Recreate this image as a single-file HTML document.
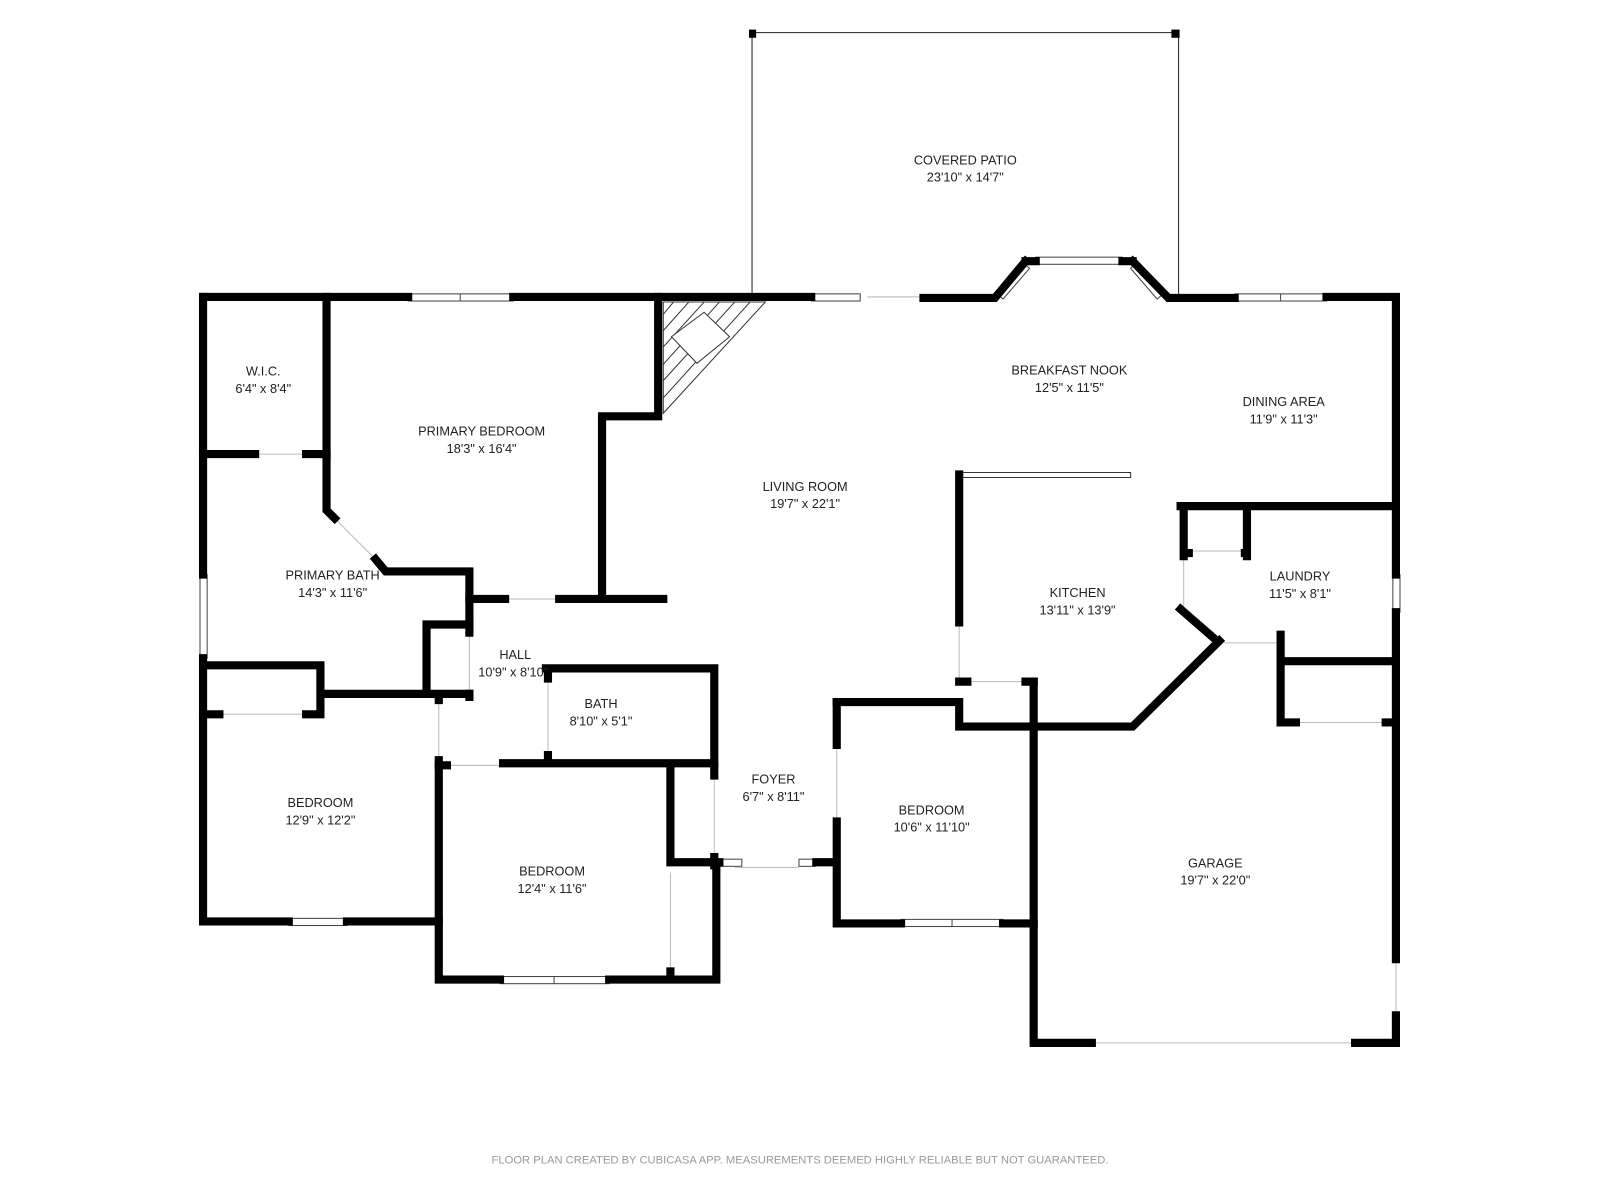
<!DOCTYPE html>
<html><head><style>
html,body{margin:0;padding:0;background:#fff;}
svg{display:block;}
text{font-family:"Liberation Sans",sans-serif;fill:#222;font-size:12.5px;text-anchor:middle;}
</style></head><body>
<svg width="1600" height="1200" viewBox="0 0 1568 1176" preserveAspectRatio="none" xmlns="http://www.w3.org/2000/svg">
<rect width="1568" height="1176" fill="#fff"/>
<g stroke="#222" stroke-width="1" fill="none">
<path d="M737,32 V291 M737,32 H1155 M1155,32 V291"/>
</g>
<rect x="734" y="29" width="7" height="8" fill="#000"/><rect x="1148" y="29" width="8" height="8" fill="#000"/>
<g stroke="#333" stroke-width="1" fill="none">
<path d="M650,296 L750,296 L650,405 Z"/>
<path d="M660,296 L650,308 M675,296 L650,324 M690,296 L650,340 M705,296 L650,357 M720,296 L650,373 M735,296 L650,390"/>
<path d="M658,330 L690,306 L715,330 L683,356 Z" fill="#fff"/>
</g>
<g fill="#fff" stroke="#444" stroke-width="1">
<rect x="400" y="288" width="103" height="7"/><line x1="451" y1="288" x2="451" y2="295"/>
<rect x="795" y="288" width="48" height="7"/>
<rect x="1015" y="252" width="85" height="7"/>
<rect x="1210" y="288" width="90" height="7"/><line x1="1255" y1="288" x2="1255" y2="295"/>
<rect x="196" y="563" width="7" height="82"/>
<rect x="1365" y="563" width="7" height="37"/>
<rect x="283" y="900" width="57" height="7"/>
<rect x="490" y="957" width="107" height="7"/><line x1="543" y1="957" x2="543" y2="964"/>
<rect x="883" y="901" width="100" height="7"/><line x1="933" y1="901" x2="933" y2="908"/>
<rect x="705" y="842" width="22" height="7"/><rect x="783" y="842" width="16" height="7"/>
<polygon points="977,288 1003,258 1009,263 983,293"/>
<polygon points="1113,258 1140,288 1134,293 1108,263"/>
</g>
<g stroke="#bbb" stroke-width="1" fill="none">
<path d="M850,291 H905 M1070,1022 H1328 M1368,940 V995 M250,445 H300 M215,700 H300 M430,683 V745 M495,587 H548 M460,620 V680 M537,665 V740 M438,750 H493 M700,748 V845 M720,850 H783 M820,730 V805 M657,855 V948 M1160,545 V598 M1200,630 H1255 M1270,708 H1358 M948,668 H1005 M940,610 V668 M1165,540 H1220 M325,505 L370,550"/>
</g>
<path d="M940,463 H1108 V468 H940" fill="#fff" stroke="#333" stroke-width="1"/>
<g stroke="#000" stroke-width="8" fill="none" stroke-linecap="square" stroke-linejoin="miter">
<path d="M199,291 H400 M503,291 H795 M905,292 H975 L1005,256 M1110,256 L1145,292 H1210 M1300,291 H1368 V563 M1368,600 V940 M1368,995 V1022 H1328 M1070,1022 H1013 V668"/>
<path d="M1005,256 H1015 M1100,256 H1110"/>
<path d="M199,291 V563 M199,645 V903 H283 M340,903 H430"/>
<path d="M430,750 V960 H490 M597,960 H702 V848"/>
<path d="M657,752 V845 H705 M800,845 H820 V805 M820,688 V730 M820,805 V905 H883 M983,905 H1013"/>
<path d="M657,952 V958"/>
<path d="M820,688 H940 V712 H1110 L1195,628 M1157,597 L1188,624"/>
<path d="M940,668 H948 M1005,668 H1013"/>
<path d="M940,465 V610"/>
<path d="M1157,496 H1368 M1160,496 V545 M1222,496 V545 M1160,542 H1165 M1220,542 H1222"/>
<path d="M1255,622 V708 H1270 M1255,648 H1368 M1358,708 H1368"/>
<path d="M645,291 V408 H590 V587 M460,587 H495 M548,587 H650"/>
<path d="M320,291 V500 L328,508 M368,548 L378,560 H460 V620 M460,680 V683"/>
<path d="M199,445 H250 M300,445 H320"/>
<path d="M418,612 H460 M418,612 V680 M314,680 H460 M314,652 V700 M199,652 H314 M199,700 H215 M300,700 H314"/>
<path d="M430,683 V686 M430,745 V750 H438 M493,748 H700 M535,655 H700 V748 M537,655 V665 M537,740 V748"/>
<path d="M700,752 V760 M700,840 V848"/>
</g>
<text x="946" y="161">COVERED PATIO</text><text x="946" y="178">23'10" x 14'7"</text>
<text x="258" y="368">W.I.C.</text><text x="258" y="385">6'4" x 8'4"</text>
<text x="472" y="427">PRIMARY BEDROOM</text><text x="472" y="444">18'3" x 16'4"</text>
<text x="789" y="481">LIVING ROOM</text><text x="789" y="498">19'7" x 22'1"</text>
<text x="1048" y="367">BREAKFAST NOOK</text><text x="1048" y="384">12'5" x 11'5"</text>
<text x="1258" y="398">DINING AREA</text><text x="1258" y="415">11'9" x 11'3"</text>
<text x="326" y="568">PRIMARY BATH</text><text x="326" y="585">14'3" x 11'6"</text>
<text x="1056" y="585">KITCHEN</text><text x="1056" y="602">13'11" x 13'9"</text>
<text x="1274" y="569">LAUNDRY</text><text x="1274" y="586">11'5" x 8'1"</text>
<text x="505" y="646">HALL</text><text x="503" y="663">10'9" x 8'10"</text>
<text x="589" y="694">BATH</text><text x="589" y="711">8'10" x 5'1"</text>
<text x="758" y="768">FOYER</text><text x="758" y="785">6'7" x 8'11"</text>
<text x="314" y="791">BEDROOM</text><text x="314" y="808">12'9" x 12'2"</text>
<text x="913" y="798">BEDROOM</text><text x="913" y="815">10'6" x 11'10"</text>
<text x="541" y="858">BEDROOM</text><text x="541" y="875">12'4" x 11'6"</text>
<text x="1191" y="850">GARAGE</text><text x="1191" y="867">19'7" x 22'0"</text>
<text x="784" y="1140" style="font-size:11px;fill:#999">FLOOR PLAN CREATED BY CUBICASA APP. MEASUREMENTS DEEMED HIGHLY RELIABLE BUT NOT GUARANTEED.</text>
</svg>
</body></html>
